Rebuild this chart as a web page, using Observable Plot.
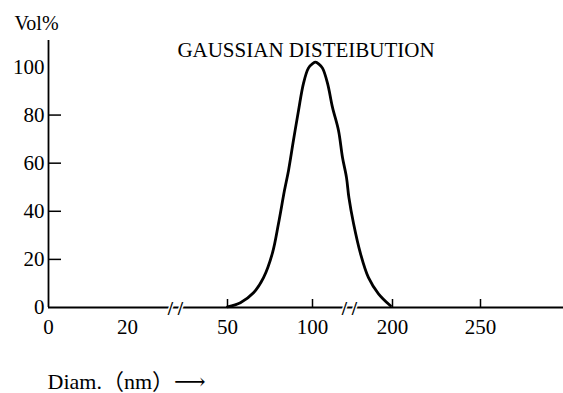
<!DOCTYPE html>
<html>
<head>
<meta charset="utf-8">
<script src="https://cdn.jsdelivr.net/npm/d3@7"></script>
<script src="https://cdn.jsdelivr.net/npm/@observablehq/plot@0.6"></script>
<style>
  html, body { margin: 0; padding: 0; background: #fff; }
</style>
</head>
<body>
<div id="chart"></div>
<script>
// Diameter (nm) and volume %
const diam = [50, 57.6, 65.3, 71.2, 76.5, 80.0, 83.5, 85.9, 88.8, 91.8, 94.7, 97.6, 100.5, 103.8, 108, 112.5, 118.8, 125, 132.5, 137.5, 142.5, 145.5, 151.3, 160, 170, 182.5, 197.5];
const vol  = [0.3, 2.0, 6.1, 12.4, 22.8, 34.9, 48.6, 57, 69.5, 82, 93.2, 99.5, 101.5, 102, 101.2, 99.5, 93.2, 83.2, 73.6, 62.4, 54, 45.7, 34.9, 22.4, 12.4, 5.7, 0.7];

// Broken x-axis: piecewise scale breakpoints and tick labels
const xBreakDomain = [0, 20, 50, 100, 200, 250, 297];
const xTickLabels = [0, 20, 50, 100, 200, 250];
const xTickMarks = [50, 100, 200, 250];
const xBreaks = [34.4, 146];
const yTickLabels = [0, 20, 40, 60, 80, 100];
const yTickMarks = [20, 40, 60, 80];

const title = "GAUSSIAN DISTEIBUTION";
const yLabel = "Vol%";
const xLabel = "Diam.（nm）⟶";

const data = diam.map((d, i) => ({diam: d, vol: vol[i]}));

const W = 563, H = 393;
const mL = 48, mR = 0, mT = 40, mB = 86;
const plotW = W - mL - mR, plotH = H - mT - mB;

const chart = Plot.plot({
  width: W,
  height: H,
  marginLeft: mL,
  marginRight: mR,
  marginTop: mT,
  marginBottom: mB,
  style: {fontFamily: "'Liberation Serif', 'Noto Sans CJK SC', 'DejaVu Serif', serif", background: "#fff", color: "#000", overflow: "visible"},
  x: {type: "linear", domain: xBreakDomain, range: [48, 127, 227, 312, 392, 480, 563]},
  y: {domain: [0, 111]},
  marks: [
    // axes lines
    Plot.ruleY([0], {stroke: "#000", strokeWidth: 1.8}),
    Plot.ruleX([0], {stroke: "#000", strokeWidth: 1.8}),
    // inward ticks
    Plot.tickY(yTickMarks, {y: d => d, insetRight: plotW - 13, stroke: "#000", strokeWidth: 1.5}),
    Plot.tickX(xTickMarks, {x: d => d, insetTop: plotH - 8, stroke: "#000", strokeWidth: 1.5}),
    // tick labels
    Plot.axisY(yTickLabels, {tickSize: 0, tickPadding: 4, fontSize: 21, label: null}),
    Plot.axisX(xTickLabels, {tickSize: 0, tickPadding: 12, fontSize: 21, label: null}),
    // axis breaks
    Plot.text(xBreaks, {x: d => d, y: 0, text: () => "/ /", fontSize: 19, fontWeight: "bold",
      stroke: "#fff", strokeWidth: 3, paintOrder: "stroke", fill: "#000", lineAnchor: "middle", dy: 1}),
    // curve
    Plot.line(data, {x: "diam", y: "vol", stroke: "#000", strokeWidth: 2.8, curve: "catmull-rom"}),
    // texts
    Plot.text([title], {frameAnchor: "top", dy: 10, fontSize: 21, lineAnchor: "middle", fill: "#000"}),
    Plot.text([yLabel], {frameAnchor: "top-left", dx: -34, dy: -17, textAnchor: "start", lineAnchor: "middle", fontSize: 20, fill: "#000"}),
    Plot.text([xLabel], {frameAnchor: "bottom-left", dx: -1, dy: 74, textAnchor: "start", lineAnchor: "middle", fontSize: 22, fill: "#000"})
  ]
});
document.getElementById("chart").appendChild(chart);
</script>
</body>
</html>
